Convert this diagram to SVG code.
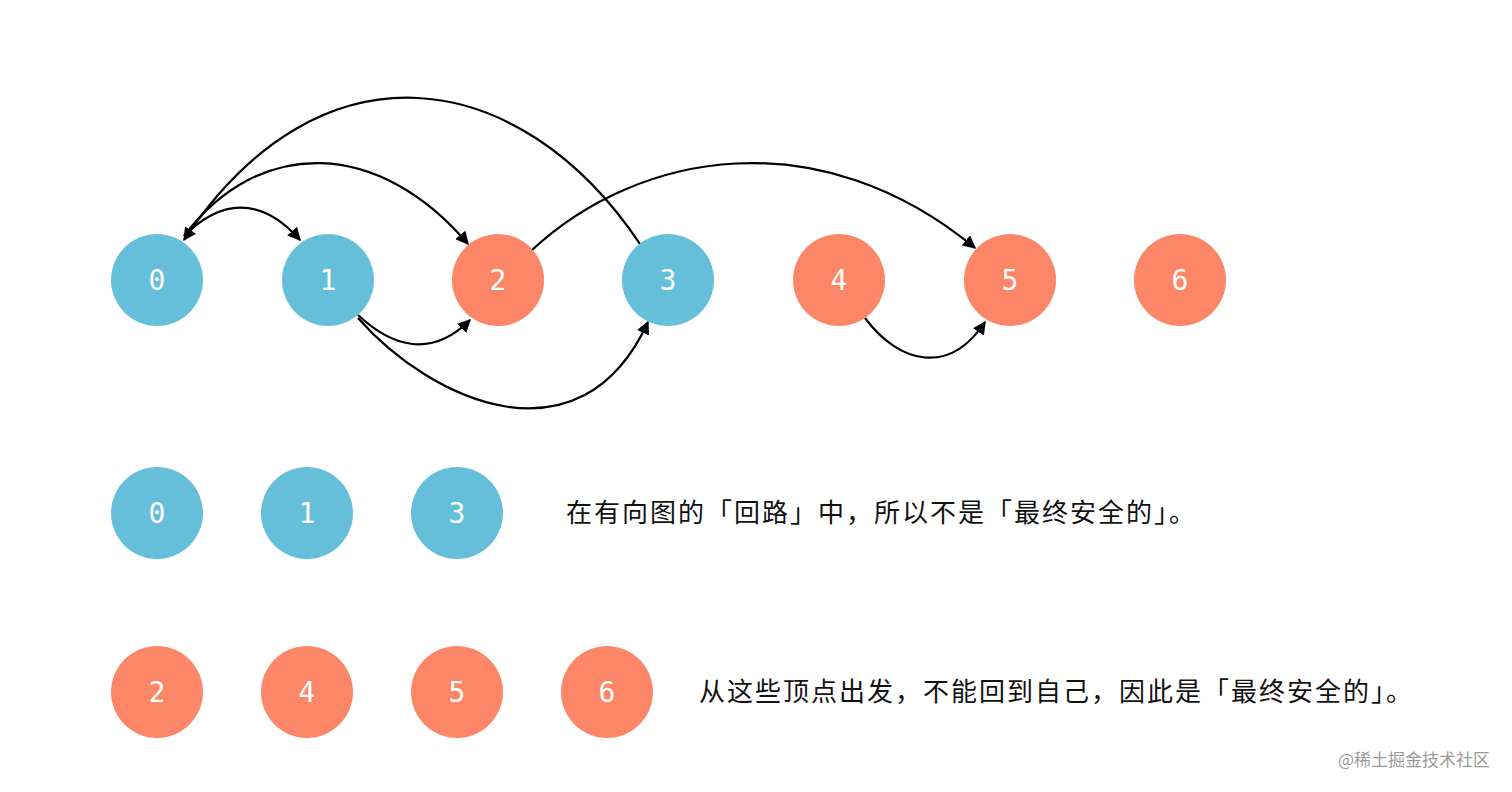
<svg xmlns="http://www.w3.org/2000/svg" width="1512" height="792" viewBox="0 0 1512 792">
<defs>
<style>
.b{fill:#66bfda}.o{fill:#fd8668}
.n{font-family:"DejaVu Sans Mono",monospace;font-size:28px;fill:#fff;text-anchor:middle;dominant-baseline:central}
.t{font-family:"Noto Sans CJK SC",sans-serif;font-size:26px;letter-spacing:2px;fill:#111}
.e{fill:none;stroke:#000;stroke-width:2.2;marker-end:url(#a)}
</style>
<marker id="a" viewBox="0 0 10 10" refX="9" refY="5" markerWidth="6" markerHeight="6" orient="auto" markerUnits="strokeWidth"><path d="M0,0L10,5L0,10z" fill="#000"/></marker>
</defs>
<rect width="1512" height="792" fill="#fff"/>
<g id="edges">
<path class="e" d="M184,236 C220,200 260,195 300,240"/>
<path class="e" d="M184,236 C260,135 380,140 468,244"/>
<path class="e" d="M640,244 C520,65 320,35 184,240"/>
<path class="e" d="M532,250 C640,150 820,120 975,248"/>
<path class="e" d="M358,315 C390,345 430,360 470,320"/>
<path class="e" d="M358,318 C430,400 580,470 648,322"/>
<path class="e" d="M865,318 C900,365 950,375 985,322"/>
</g>
<g id="n0"><circle class="b" cx="157" cy="280" r="46"/><text class="n" x="157" y="280">0</text></g>
<g id="n1"><circle class="b" cx="328" cy="280" r="46"/><text class="n" x="328" y="280">1</text></g>
<g id="n2"><circle class="o" cx="498" cy="280" r="46"/><text class="n" x="498" y="280">2</text></g>
<g id="n3"><circle class="b" cx="668" cy="280" r="46"/><text class="n" x="668" y="280">3</text></g>
<g id="n4"><circle class="o" cx="839" cy="280" r="46"/><text class="n" x="839" y="280">4</text></g>
<g id="n5"><circle class="o" cx="1010" cy="280" r="46"/><text class="n" x="1010" y="280">5</text></g>
<g id="n6"><circle class="o" cx="1180" cy="280" r="46"/><text class="n" x="1180" y="280">6</text></g>
<g id="r2a"><circle class="b" cx="157" cy="513" r="46"/><text class="n" x="157" y="513">0</text></g>
<g id="r2b"><circle class="b" cx="307" cy="513" r="46"/><text class="n" x="307" y="513">1</text></g>
<g id="r2c"><circle class="b" cx="457" cy="513" r="46"/><text class="n" x="457" y="513">3</text></g>
<g id="r3a"><circle class="o" cx="157" cy="692" r="46"/><text class="n" x="157" y="692">2</text></g>
<g id="r3b"><circle class="o" cx="307" cy="692" r="46"/><text class="n" x="307" y="692">4</text></g>
<g id="r3c"><circle class="o" cx="457" cy="692" r="46"/><text class="n" x="457" y="692">5</text></g>
<g id="r3d"><circle class="o" cx="607" cy="692" r="46"/><text class="n" x="607" y="692">6</text></g>
<text class="t" x="566" y="522">在有向图的「回路」中，所以不是「最终安全的」。</text>
<text class="t" x="699" y="701">从这些顶点出发，不能回到自己，因此是「最终安全的」。</text>
<text x="1490" y="766" text-anchor="end" style="font-family:'Noto Sans CJK SC',sans-serif;font-size:17px;fill:#9a9a9a">@稀土掘金技术社区</text>
</svg>
